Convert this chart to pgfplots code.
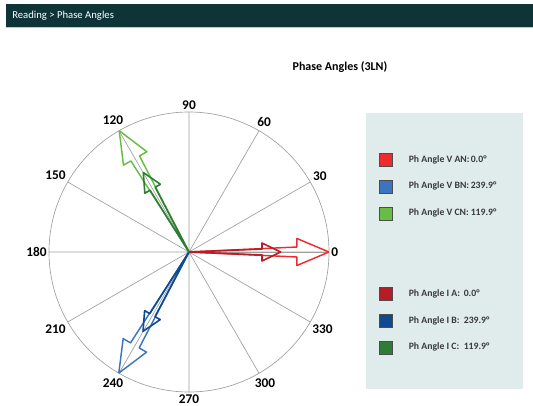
\documentclass[border=0pt]{standalone}
\usepackage{fontspec}
\setmainfont{Carlito}
\usepackage{pgfplots}
\pgfplotsset{compat=1.18}
\usepgfplotslibrary{polar}
\definecolor{hdr}{HTML}{0F3438}
\definecolor{legbg}{HTML}{E0EBEB}
\definecolor{vred}{HTML}{EE2B2E}
\definecolor{vblue}{HTML}{3D74C2}
\definecolor{vgreen}{HTML}{68BE45}
\definecolor{ired}{HTML}{B51E26}
\definecolor{iblue}{HTML}{0F4A8F}
\definecolor{igreen}{HTML}{2E7D36}
\definecolor{txt}{HTML}{3A3A3A}
\begin{document}
\begin{tikzpicture}[x=0.75pt,y=0.75pt]
\path[use as bounding box] (0,0) rectangle (533,405);
\fill[hdr] (6,401) rectangle (533,378);
\draw[gray!45,line width=0.6pt] (6,377.6) -- (533,377.6);
\node[anchor=west,text=white,font=\fontsize{8}{9.5}\selectfont,inner sep=0pt] at (12,389.5) {Reading > Phase Angles};
\node[font=\bfseries\fontsize{9}{11}\selectfont] at (340,337.5) {Phase Angles (3LN)};
\fill[legbg] (366,292) rectangle (523,16);
\begin{polaraxis}[
  at={(141.75pt,114.75pt)}, anchor=center,
  scale only axis, width=210pt, height=210pt,
  ymin=0, ymax=1, ytick=\empty,
  xtick={0,30,60,90,120,150,180,210,240,270,300,330},
  xticklabels={0,30,60,90,120,150,180,210,240,270,300,330},
  xmajorgrids,
  grid style={gray!75, line width=0.5pt},
  axis line style={gray!75, line width=0.5pt},
  major tick length=0pt,
  xticklabel style={font=\bfseries\fontsize{10}{12}\selectfont, inner sep=1.5pt},
  /pgf/number format/assume math mode=true,
  legend cell align=left,
  legend image code/.code={\draw[line width=0.4pt, #1] (0pt,-4.875pt) rectangle (9.75pt,4.875pt);},
  legend style={at={(axis description cs:1.1786,0.855)}, anchor=north west,
    draw=none, fill=none, inner sep=0pt, row sep=9.975pt,
    font=\bfseries\fontsize{7.3}{9}\selectfont, text=txt,
    nodes={inner sep=0pt}},
]
% Voltage arrows (angle, magnitude)
\addplot[forget plot, draw=vred, line width=1.1pt, line join=round] coordinates {(0,0) (2.65,0.772) (7.13,0.777) (0,1.0) (-7.13,0.777) (-2.65,0.772)} -- cycle;
\addplot[forget plot, draw=vblue, line width=1.1pt, line join=round] coordinates {(239.9,0) (242.55,0.772) (247.03,0.777) (239.9,1.0) (232.77,0.777) (237.25,0.772)} -- cycle;
\addplot[forget plot, draw=vgreen, line width=1.1pt, line join=round] coordinates {(119.9,0) (122.55,0.772) (127.03,0.777) (119.9,1.0) (112.77,0.777) (117.25,0.772)} -- cycle;
% Current arrows
\addplot[forget plot, draw=ired, line width=1.2pt, line join=round] coordinates {(0,0) (2.35,0.522) (7.03,0.525) (0,0.655) (-7.03,0.525) (-2.35,0.522)} -- cycle;
\addplot[forget plot, draw=iblue, line width=1.2pt, line join=round] coordinates {(239.9,0) (242.25,0.522) (246.93,0.525) (239.9,0.655) (232.87,0.525) (237.55,0.522)} -- cycle;
\addplot[forget plot, draw=igreen, line width=1.2pt, line join=round] coordinates {(119.9,0) (122.25,0.522) (126.93,0.525) (119.9,0.655) (112.87,0.525) (117.55,0.522)} -- cycle;
\addlegendimage{draw=black!70, fill=vred}
\addlegendentry{\hspace*{12pt}\makebox[46.5pt][l]{Ph Angle V AN:}0.0°}
\addlegendimage{draw=black!70, fill=vblue}
\addlegendentry{\hspace*{12pt}\makebox[46.5pt][l]{Ph Angle V BN:}239.9°}
\addlegendimage{draw=black!70, fill=vgreen}
\addlegendentry{\hspace*{12pt}\makebox[46.5pt][l]{Ph Angle V CN:}119.9°}
\addlegendimage{draw=legbg, fill=legbg}
\addlegendentry{}
\addlegendimage{draw=legbg, fill=legbg}
\addlegendentry{}
\addlegendimage{draw=black!70, fill=ired}
\addlegendentry{\hspace*{12pt}\makebox[41.25pt][l]{Ph Angle I A:}0.0°}
\addlegendimage{draw=black!70, fill=iblue}
\addlegendentry{\hspace*{12pt}\makebox[41.25pt][l]{Ph Angle I B:}239.9°}
\addlegendimage{draw=black!70, fill=igreen}
\addlegendentry{\hspace*{12pt}\makebox[41.25pt][l]{Ph Angle I C:}119.9°}
\end{polaraxis}
\end{tikzpicture}
\end{document}
